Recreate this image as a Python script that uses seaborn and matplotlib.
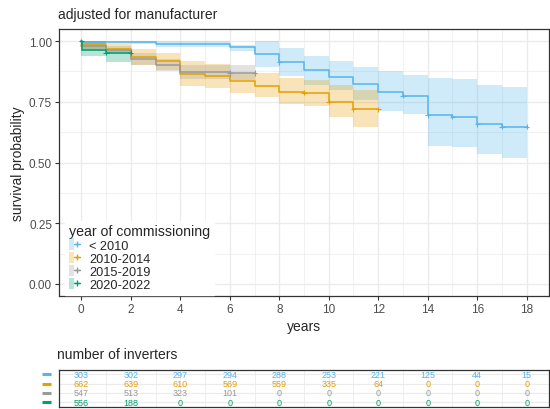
import numpy as np
import pandas as pd
import matplotlib
matplotlib.use("Agg")
import matplotlib.pyplot as plt
from matplotlib.patches import Patch
from matplotlib.lines import Line2D
from matplotlib.legend_handler import HandlerTuple
import seaborn as sns

# Kaplan-Meier step estimates per commissioning cohort (start of each interval)
groups = ["< 2010", "2010-2014", "2015-2019", "2020-2022"]
colors = ["#56B4E9", "#E69F00", "#999999", "#009E73"]

t_lt2010 = [0, 3, 6, 7, 8, 9, 10, 11, 12, 13, 14, 15, 16, 17, 18]
s_lt2010 = [0.998, 0.988, 0.977, 0.945, 0.914, 0.880, 0.852, 0.824, 0.789, 0.775, 0.694, 0.689, 0.658, 0.647, 0.647]
lo_lt2010 = [0.990, 0.975, 0.961, 0.893, 0.858, 0.821, 0.800, 0.759, 0.711, 0.698, 0.568, 0.563, 0.534, 0.519, 0.519]
hi_lt2010 = [1.000, 1.000, 0.986, 1.000, 0.973, 0.940, 0.919, 0.893, 0.878, 0.862, 0.848, 0.845, 0.818, 0.809, 0.809]
c_lt2010 = [8, 13, 14, 15, 16, 17, 18]

t_1014 = [0, 1, 2, 3, 4, 5, 6, 7, 8, 9, 10, 11, 12]
s_1014 = [0.985, 0.968, 0.934, 0.920, 0.863, 0.857, 0.836, 0.816, 0.792, 0.787, 0.751, 0.720, 0.720]
lo_1014 = [0.960, 0.950, 0.900, 0.880, 0.816, 0.807, 0.788, 0.768, 0.742, 0.734, 0.687, 0.645, 0.645]
hi_1014 = [1.000, 0.990, 0.968, 0.950, 0.918, 0.907, 0.866, 0.870, 0.848, 0.841, 0.818, 0.800, 0.800]
c_1014 = [9, 10, 11, 12]

t_1519 = [0, 1, 2, 3, 4, 5, 6, 7]
s_1519 = [0.980, 0.962, 0.925, 0.900, 0.873, 0.872, 0.869, 0.869]
lo_1519 = [0.960, 0.945, 0.900, 0.875, 0.845, 0.845, 0.840, 0.840]
hi_1519 = [1.000, 0.980, 0.950, 0.925, 0.900, 0.900, 0.900, 0.900]
c_1519 = [6, 7]

t_2022 = [0, 0.03, 1, 2]
s_2022 = [1.000, 0.964, 0.952, 0.952]
lo_2022 = [0.940, 0.939, 0.914, 0.914]
hi_2022 = [1.000, 1.000, 0.968, 0.968]
c_2022 = [0, 1, 2]

# number at risk table
risk_times = [0, 2, 4, 6, 8, 10, 12, 14, 16, 18]
risk_lt2010 = [303, 302, 297, 294, 288, 253, 221, 125, 44, 15]
risk_1014 = [662, 639, 610, 569, 559, 335, 64, 0, 0, 0]
risk_1519 = [547, 513, 323, 101, 0, 0, 0, 0, 0, 0]
risk_2022 = [556, 188, 0, 0, 0, 0, 0, 0, 0, 0]

series = [
    (t_lt2010, s_lt2010, lo_lt2010, hi_lt2010, c_lt2010),
    (t_1014, s_1014, lo_1014, hi_1014, c_1014),
    (t_1519, s_1519, lo_1519, hi_1519, c_1519),
    (t_2022, s_2022, lo_2022, hi_2022, c_2022),
]
risks = [risk_lt2010, risk_1014, risk_1519, risk_2022]

curve_rows, cens_rows = [], []
for g, (t, s, lo, hi, cens) in zip(groups, series):
    for ti, si, l, h in zip(t, s, lo, hi):
        curve_rows.append(dict(group=g, time=ti, surv=si, lower=l, upper=h))
    for ct in cens:
        idx = max(i for i, ti in enumerate(t) if ti <= ct)
        cens_rows.append(dict(group=g, time=ct, surv=s[idx]))
curves = pd.DataFrame(curve_rows)
censor = pd.DataFrame(cens_rows)
palette = dict(zip(groups, colors))

sns.set_theme(style="white")
plt.rcParams["font.family"] = ["Liberation Sans", "DejaVu Sans"]

fig = plt.figure(figsize=(5.5, 4.1), dpi=100)
ax = fig.add_axes([59 / 550, 1 - 297 / 410, 490 / 550, 267 / 410])
ax_t = fig.add_axes([59 / 550, 1 - 407.7 / 410, 490 / 550, 37 / 410])

grid_c = "#EBEBEB"
edge_c = "#333333"

# confidence bands
for g in groups:
    d = curves[curves.group == g]
    ax.fill_between(d.time, d.lower, d.upper, step="post",
                    color=palette[g], alpha=0.28, linewidth=0, zorder=2)

sns.lineplot(data=curves, x="time", y="surv", hue="group", palette=palette,
             hue_order=groups, estimator=None, drawstyle="steps-post",
             linewidth=1.1, legend=False, ax=ax, zorder=3)
sns.scatterplot(data=censor, x="time", y="surv", hue="group", palette=palette,
                hue_order=groups, marker="+", s=14, linewidth=0.8,
                legend=False, ax=ax, zorder=4)

ax.set_xlim(-0.9, 18.9)
ax.set_ylim(-0.05, 1.05)
ax.set_xticks(np.arange(0, 19, 2))
ax.set_xticks(np.arange(1, 19, 2), minor=True)
ax.set_yticks([0, 0.25, 0.5, 0.75, 1.0])
ax.set_yticks([0.125, 0.375, 0.625, 0.875], minor=True)
ax.set_yticklabels(["0.00", "0.25", "0.50", "0.75", "1.00"])
ax.grid(which="major", color=grid_c, linewidth=1.0, zorder=0)
ax.grid(which="minor", color=grid_c, linewidth=0.5, zorder=0)
ax.set_axisbelow(True)
for sp in ax.spines.values():
    sp.set_color(edge_c)
    sp.set_linewidth(0.9)
ax.tick_params(which="major", length=3, width=0.8, color=edge_c,
               labelsize=8.5, labelcolor="#4D4D4D", pad=2, left=True, bottom=True)
ax.tick_params(which="minor", length=0)
ax.set_xlabel("years", fontsize=10, labelpad=3)
ax.set_ylabel("survival probability", fontsize=10, labelpad=3)

fig.text(58 / 550, 1 - 15 / 410, "adjusted for manufacturer", fontsize=10,
         ha="left", va="center")

handles = [(Patch(facecolor=c, alpha=0.28, edgecolor="none"),
            Line2D([], [], color=c, marker="+", markersize=5, linewidth=0.9))
           for c in colors]
leg = ax.legend(handles, groups, title="year of commissioning",
                handler_map={tuple: HandlerTuple(ndivide=None, pad=0)},
                loc="lower left", bbox_to_anchor=(0.012, 0.005),
                frameon=True, framealpha=1, edgecolor="white", fancybox=False,
                fontsize=9.2, title_fontsize=10.2, handlelength=0.85,
                handleheight=1.0, handletextpad=0.75, labelspacing=0.0,
                borderpad=0.3, borderaxespad=0)
leg._legend_box.align = "left"
leg.set_zorder(5)

# risk table
for i, (g, r) in enumerate(zip(groups, risks)):
    for tx, n in zip(risk_times, r):
        ax_t.text(tx, i, str(n), color=palette[g], fontsize=6.5,
                  ha="center", va="center")
    ax_t.plot([-0.035, -0.017], [i, i], color=palette[g], linewidth=2.2,
              transform=ax_t.get_yaxis_transform(), clip_on=False,
              solid_capstyle="butt")
ax_t.set_xlim(-0.9, 18.9)
ax_t.set_ylim(3.5, -0.5)
ax_t.set_xticks(np.arange(0, 19, 2))
ax_t.set_xticks(np.arange(1, 19, 2), minor=True)
ax_t.set_yticks([0, 1, 2, 3])
ax_t.grid(which="both", axis="x", color=grid_c, linewidth=0.6, zorder=0)
ax_t.grid(which="major", axis="y", color=grid_c, linewidth=0.8, zorder=0)
ax_t.set_xticklabels([])
ax_t.set_yticklabels([])
ax_t.tick_params(length=0)
for sp in ax_t.spines.values():
    sp.set_color(edge_c)
    sp.set_linewidth(0.9)
fig.text(57 / 550, 1 - 355 / 410, "number of inverters", fontsize=10,
         ha="left", va="center")

fig.savefig("out.png", dpi=100)
